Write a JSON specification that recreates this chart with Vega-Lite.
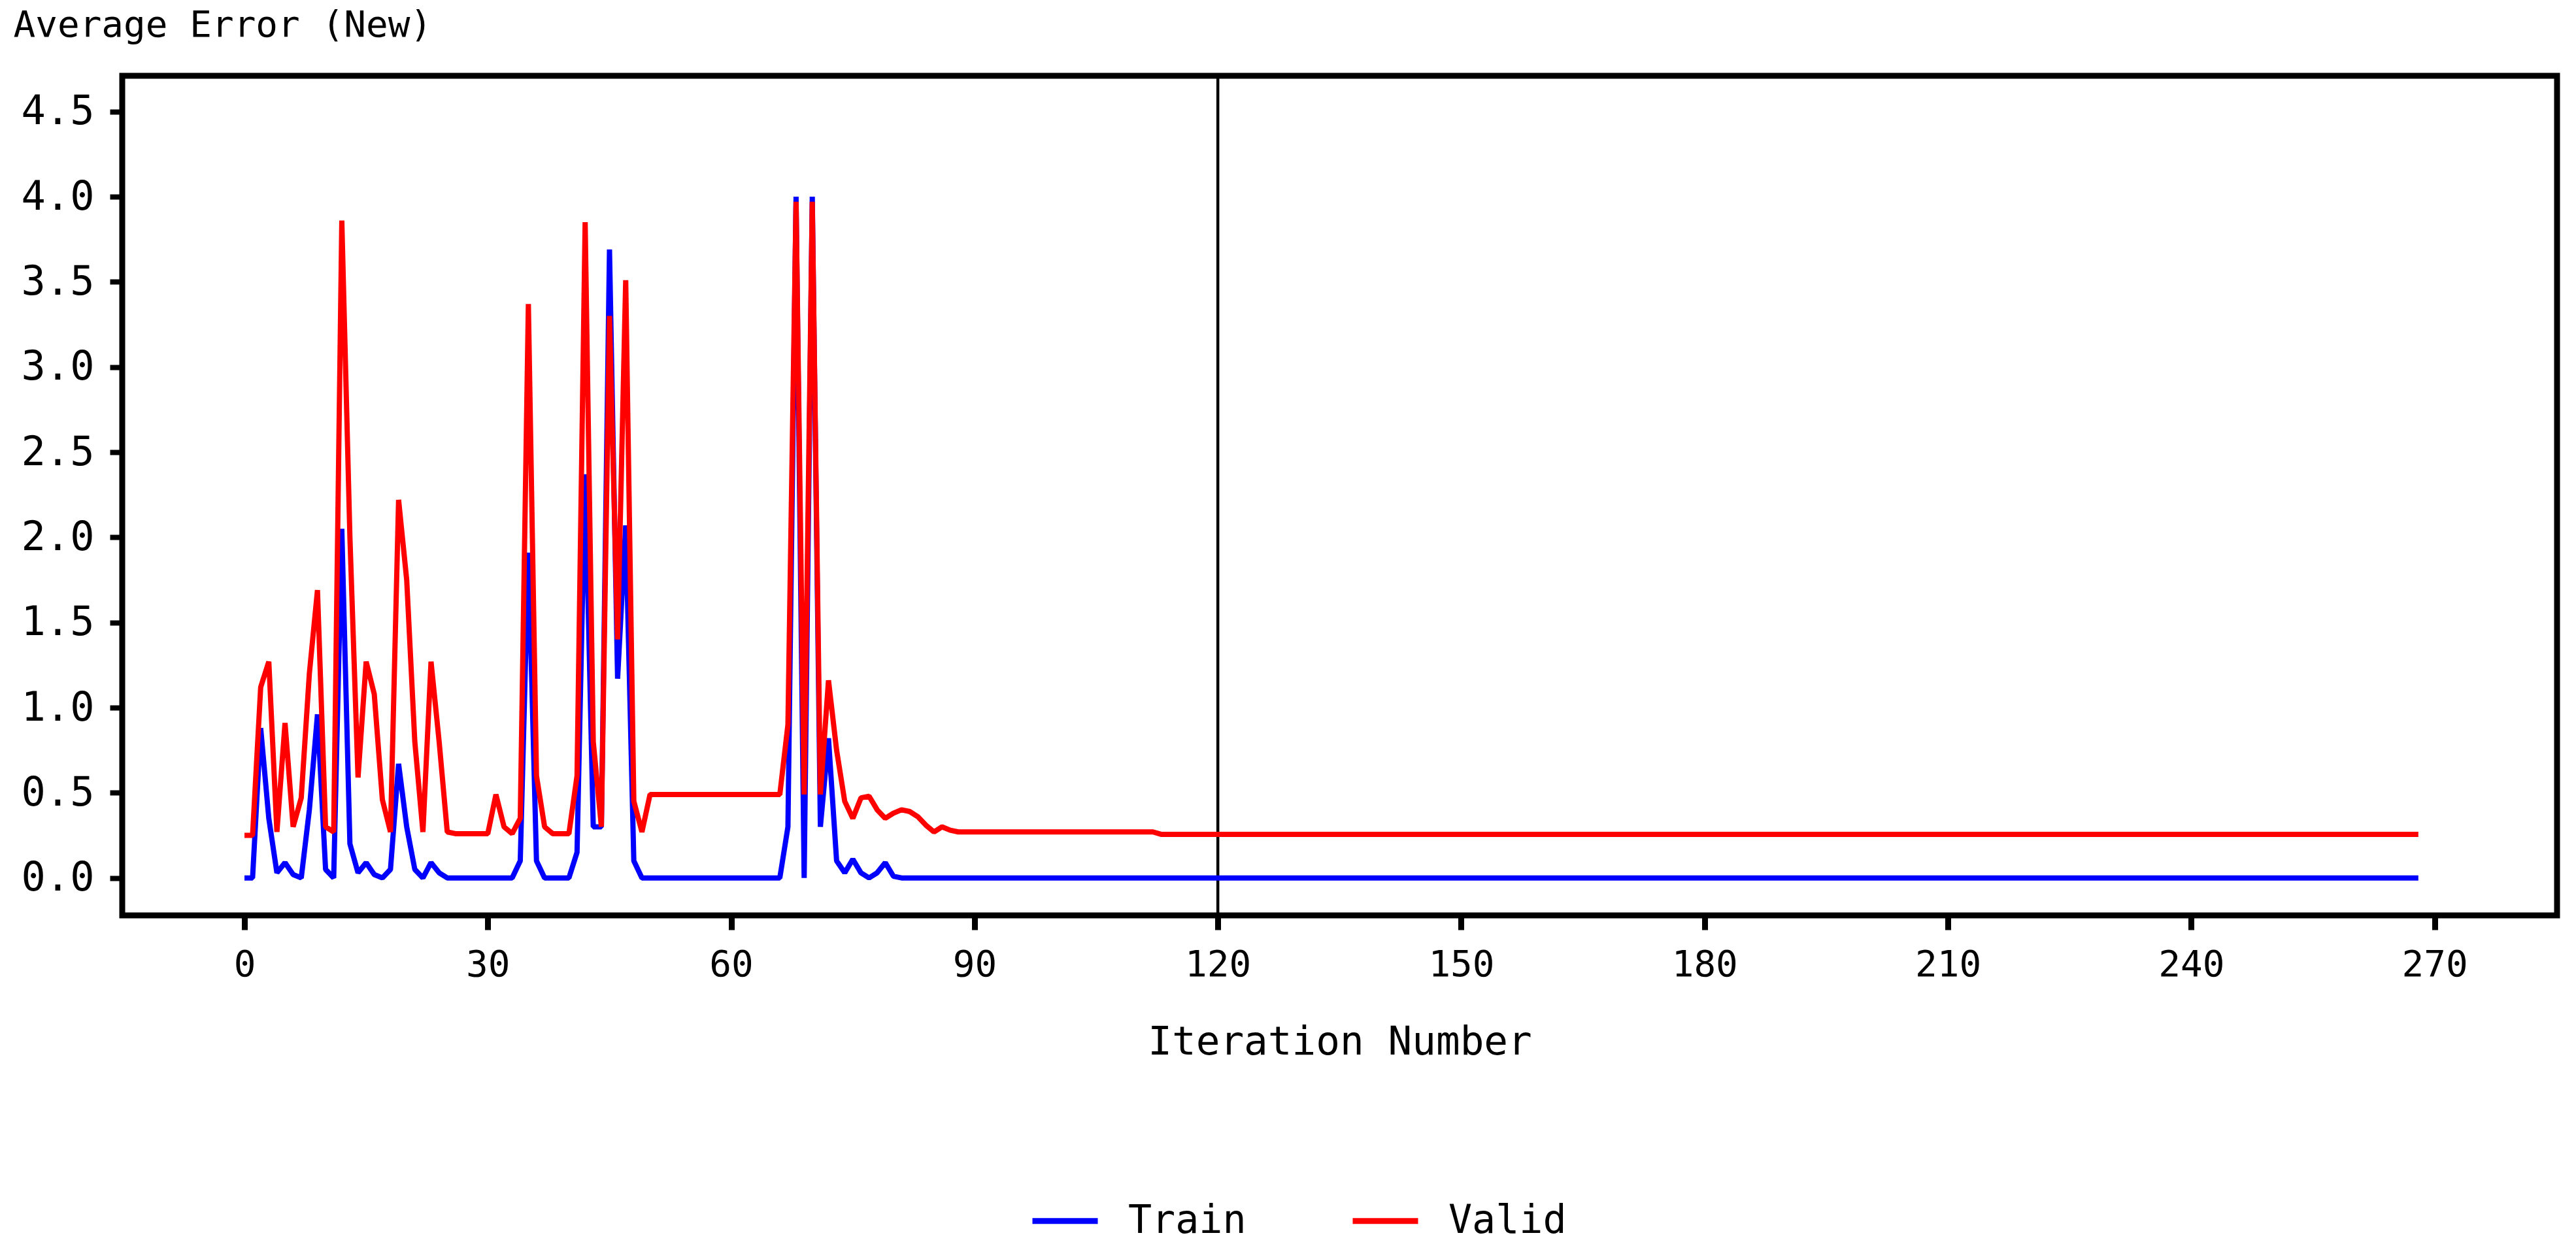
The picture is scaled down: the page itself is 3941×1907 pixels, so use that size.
{
  "$schema": "https://vega.github.io/schema/vega-lite/v6.json",
  "width": 3725,
  "height": 1285,
  "autosize": {"type": "none"},
  "padding": {"left": 187, "top": 116, "right": 29, "bottom": 506},
  "background": "white",
  "config": {
    "view": {"stroke": "black", "strokeWidth": 9},
    "font": "DejaVu Sans Mono"
  },
  "datasets": {
    "errors": [
      {"Iteration":0,"Train":0,"Valid":0.25},
      {"Iteration":1,"Train":0,"Valid":0.25},
      {"Iteration":2,"Train":0.88,"Valid":1.12},
      {"Iteration":3,"Train":0.35,"Valid":1.27},
      {"Iteration":4,"Train":0.03,"Valid":0.27},
      {"Iteration":5,"Train":0.09,"Valid":0.91},
      {"Iteration":6,"Train":0.02,"Valid":0.3},
      {"Iteration":7,"Train":0,"Valid":0.47},
      {"Iteration":8,"Train":0.4,"Valid":1.2},
      {"Iteration":9,"Train":0.96,"Valid":1.69},
      {"Iteration":10,"Train":0.05,"Valid":0.3},
      {"Iteration":11,"Train":0,"Valid":0.27},
      {"Iteration":12,"Train":2.05,"Valid":3.86},
      {"Iteration":13,"Train":0.2,"Valid":2.0},
      {"Iteration":14,"Train":0.03,"Valid":0.59},
      {"Iteration":15,"Train":0.09,"Valid":1.27},
      {"Iteration":16,"Train":0.02,"Valid":1.08},
      {"Iteration":17,"Train":0,"Valid":0.46},
      {"Iteration":18,"Train":0.05,"Valid":0.27},
      {"Iteration":19,"Train":0.67,"Valid":2.22},
      {"Iteration":20,"Train":0.3,"Valid":1.75},
      {"Iteration":21,"Train":0.05,"Valid":0.8},
      {"Iteration":22,"Train":0,"Valid":0.27},
      {"Iteration":23,"Train":0.09,"Valid":1.27},
      {"Iteration":24,"Train":0.03,"Valid":0.8},
      {"Iteration":25,"Train":0,"Valid":0.27},
      {"Iteration":26,"Train":0,"Valid":0.26},
      {"Iteration":27,"Train":0,"Valid":0.26},
      {"Iteration":28,"Train":0,"Valid":0.26},
      {"Iteration":29,"Train":0,"Valid":0.26},
      {"Iteration":30,"Train":0,"Valid":0.26},
      {"Iteration":31,"Train":0,"Valid":0.49},
      {"Iteration":32,"Train":0,"Valid":0.3},
      {"Iteration":33,"Train":0,"Valid":0.26},
      {"Iteration":34,"Train":0.1,"Valid":0.35},
      {"Iteration":35,"Train":1.91,"Valid":3.37},
      {"Iteration":36,"Train":0.1,"Valid":0.6},
      {"Iteration":37,"Train":0,"Valid":0.3},
      {"Iteration":38,"Train":0,"Valid":0.26},
      {"Iteration":39,"Train":0,"Valid":0.26},
      {"Iteration":40,"Train":0,"Valid":0.26},
      {"Iteration":41,"Train":0.15,"Valid":0.6},
      {"Iteration":42,"Train":2.37,"Valid":3.85},
      {"Iteration":43,"Train":0.3,"Valid":0.8},
      {"Iteration":44,"Train":0.3,"Valid":0.3},
      {"Iteration":45,"Train":3.69,"Valid":3.3},
      {"Iteration":46,"Train":1.17,"Valid":1.4},
      {"Iteration":47,"Train":2.07,"Valid":3.51},
      {"Iteration":48,"Train":0.1,"Valid":0.45},
      {"Iteration":49,"Train":0,"Valid":0.27},
      {"Iteration":50,"Train":0,"Valid":0.49},
      {"Iteration":51,"Train":0,"Valid":0.49},
      {"Iteration":52,"Train":0,"Valid":0.49},
      {"Iteration":53,"Train":0,"Valid":0.49},
      {"Iteration":54,"Train":0,"Valid":0.49},
      {"Iteration":55,"Train":0,"Valid":0.49},
      {"Iteration":56,"Train":0,"Valid":0.49},
      {"Iteration":57,"Train":0,"Valid":0.49},
      {"Iteration":58,"Train":0,"Valid":0.49},
      {"Iteration":59,"Train":0,"Valid":0.49},
      {"Iteration":60,"Train":0,"Valid":0.49},
      {"Iteration":61,"Train":0,"Valid":0.49},
      {"Iteration":62,"Train":0,"Valid":0.49},
      {"Iteration":63,"Train":0,"Valid":0.49},
      {"Iteration":64,"Train":0,"Valid":0.49},
      {"Iteration":65,"Train":0,"Valid":0.49},
      {"Iteration":66,"Train":0,"Valid":0.49},
      {"Iteration":67,"Train":0.3,"Valid":0.9},
      {"Iteration":68,"Train":4.0,"Valid":3.97},
      {"Iteration":69,"Train":0,"Valid":0.49},
      {"Iteration":70,"Train":4.0,"Valid":3.97},
      {"Iteration":71,"Train":0.3,"Valid":0.49},
      {"Iteration":72,"Train":0.82,"Valid":1.16},
      {"Iteration":73,"Train":0.1,"Valid":0.75},
      {"Iteration":74,"Train":0.03,"Valid":0.45},
      {"Iteration":75,"Train":0.11,"Valid":0.35},
      {"Iteration":76,"Train":0.03,"Valid":0.47},
      {"Iteration":77,"Train":0,"Valid":0.48},
      {"Iteration":78,"Train":0.03,"Valid":0.4},
      {"Iteration":79,"Train":0.09,"Valid":0.35},
      {"Iteration":80,"Train":0.01,"Valid":0.38},
      {"Iteration":81,"Train":0,"Valid":0.4},
      {"Iteration":82,"Train":0,"Valid":0.39},
      {"Iteration":83,"Train":0,"Valid":0.36},
      {"Iteration":84,"Train":0,"Valid":0.31},
      {"Iteration":85,"Train":0,"Valid":0.27},
      {"Iteration":86,"Train":0,"Valid":0.3},
      {"Iteration":87,"Train":0,"Valid":0.28},
      {"Iteration":88,"Train":0,"Valid":0.27},
      {"Iteration":89,"Train":0,"Valid":0.27},
      {"Iteration":90,"Train":0,"Valid":0.27},
      {"Iteration":91,"Train":0,"Valid":0.27},
      {"Iteration":92,"Train":0,"Valid":0.27},
      {"Iteration":93,"Train":0,"Valid":0.27},
      {"Iteration":94,"Train":0,"Valid":0.27},
      {"Iteration":95,"Train":0,"Valid":0.27},
      {"Iteration":96,"Train":0,"Valid":0.27},
      {"Iteration":97,"Train":0,"Valid":0.27},
      {"Iteration":98,"Train":0,"Valid":0.27},
      {"Iteration":99,"Train":0,"Valid":0.27},
      {"Iteration":100,"Train":0,"Valid":0.27},
      {"Iteration":101,"Train":0,"Valid":0.27},
      {"Iteration":102,"Train":0,"Valid":0.27},
      {"Iteration":103,"Train":0,"Valid":0.27},
      {"Iteration":104,"Train":0,"Valid":0.27},
      {"Iteration":105,"Train":0,"Valid":0.27},
      {"Iteration":106,"Train":0,"Valid":0.27},
      {"Iteration":107,"Train":0,"Valid":0.27},
      {"Iteration":108,"Train":0,"Valid":0.27},
      {"Iteration":109,"Train":0,"Valid":0.27},
      {"Iteration":110,"Train":0,"Valid":0.27},
      {"Iteration":111,"Train":0,"Valid":0.27},
      {"Iteration":112,"Train":0,"Valid":0.27},
      {"Iteration":113,"Train":0,"Valid":0.256},
      {"Iteration":114,"Train":0,"Valid":0.256},
      {"Iteration":115,"Train":0,"Valid":0.256},
      {"Iteration":116,"Train":0,"Valid":0.256},
      {"Iteration":117,"Train":0,"Valid":0.256},
      {"Iteration":118,"Train":0,"Valid":0.256},
      {"Iteration":119,"Train":0,"Valid":0.256},
      {"Iteration":120,"Train":0,"Valid":0.256},
      {"Iteration":121,"Train":0,"Valid":0.256},
      {"Iteration":122,"Train":0,"Valid":0.256},
      {"Iteration":123,"Train":0,"Valid":0.256},
      {"Iteration":124,"Train":0,"Valid":0.256},
      {"Iteration":125,"Train":0,"Valid":0.256},
      {"Iteration":126,"Train":0,"Valid":0.256},
      {"Iteration":127,"Train":0,"Valid":0.256},
      {"Iteration":128,"Train":0,"Valid":0.256},
      {"Iteration":129,"Train":0,"Valid":0.256},
      {"Iteration":130,"Train":0,"Valid":0.256},
      {"Iteration":131,"Train":0,"Valid":0.256},
      {"Iteration":132,"Train":0,"Valid":0.256},
      {"Iteration":133,"Train":0,"Valid":0.256},
      {"Iteration":134,"Train":0,"Valid":0.256},
      {"Iteration":135,"Train":0,"Valid":0.256},
      {"Iteration":136,"Train":0,"Valid":0.256},
      {"Iteration":137,"Train":0,"Valid":0.256},
      {"Iteration":138,"Train":0,"Valid":0.256},
      {"Iteration":139,"Train":0,"Valid":0.256},
      {"Iteration":140,"Train":0,"Valid":0.256},
      {"Iteration":141,"Train":0,"Valid":0.256},
      {"Iteration":142,"Train":0,"Valid":0.256},
      {"Iteration":143,"Train":0,"Valid":0.256},
      {"Iteration":144,"Train":0,"Valid":0.256},
      {"Iteration":145,"Train":0,"Valid":0.256},
      {"Iteration":146,"Train":0,"Valid":0.256},
      {"Iteration":147,"Train":0,"Valid":0.256},
      {"Iteration":148,"Train":0,"Valid":0.256},
      {"Iteration":149,"Train":0,"Valid":0.256},
      {"Iteration":150,"Train":0,"Valid":0.256},
      {"Iteration":151,"Train":0,"Valid":0.256},
      {"Iteration":152,"Train":0,"Valid":0.256},
      {"Iteration":153,"Train":0,"Valid":0.256},
      {"Iteration":154,"Train":0,"Valid":0.256},
      {"Iteration":155,"Train":0,"Valid":0.256},
      {"Iteration":156,"Train":0,"Valid":0.256},
      {"Iteration":157,"Train":0,"Valid":0.256},
      {"Iteration":158,"Train":0,"Valid":0.256},
      {"Iteration":159,"Train":0,"Valid":0.256},
      {"Iteration":160,"Train":0,"Valid":0.256},
      {"Iteration":161,"Train":0,"Valid":0.256},
      {"Iteration":162,"Train":0,"Valid":0.256},
      {"Iteration":163,"Train":0,"Valid":0.256},
      {"Iteration":164,"Train":0,"Valid":0.256},
      {"Iteration":165,"Train":0,"Valid":0.256},
      {"Iteration":166,"Train":0,"Valid":0.256},
      {"Iteration":167,"Train":0,"Valid":0.256},
      {"Iteration":168,"Train":0,"Valid":0.256},
      {"Iteration":169,"Train":0,"Valid":0.256},
      {"Iteration":170,"Train":0,"Valid":0.256},
      {"Iteration":171,"Train":0,"Valid":0.256},
      {"Iteration":172,"Train":0,"Valid":0.256},
      {"Iteration":173,"Train":0,"Valid":0.256},
      {"Iteration":174,"Train":0,"Valid":0.256},
      {"Iteration":175,"Train":0,"Valid":0.256},
      {"Iteration":176,"Train":0,"Valid":0.256},
      {"Iteration":177,"Train":0,"Valid":0.256},
      {"Iteration":178,"Train":0,"Valid":0.256},
      {"Iteration":179,"Train":0,"Valid":0.256},
      {"Iteration":180,"Train":0,"Valid":0.256},
      {"Iteration":181,"Train":0,"Valid":0.256},
      {"Iteration":182,"Train":0,"Valid":0.256},
      {"Iteration":183,"Train":0,"Valid":0.256},
      {"Iteration":184,"Train":0,"Valid":0.256},
      {"Iteration":185,"Train":0,"Valid":0.256},
      {"Iteration":186,"Train":0,"Valid":0.256},
      {"Iteration":187,"Train":0,"Valid":0.256},
      {"Iteration":188,"Train":0,"Valid":0.256},
      {"Iteration":189,"Train":0,"Valid":0.256},
      {"Iteration":190,"Train":0,"Valid":0.256},
      {"Iteration":191,"Train":0,"Valid":0.256},
      {"Iteration":192,"Train":0,"Valid":0.256},
      {"Iteration":193,"Train":0,"Valid":0.256},
      {"Iteration":194,"Train":0,"Valid":0.256},
      {"Iteration":195,"Train":0,"Valid":0.256},
      {"Iteration":196,"Train":0,"Valid":0.256},
      {"Iteration":197,"Train":0,"Valid":0.256},
      {"Iteration":198,"Train":0,"Valid":0.256},
      {"Iteration":199,"Train":0,"Valid":0.256},
      {"Iteration":200,"Train":0,"Valid":0.256},
      {"Iteration":201,"Train":0,"Valid":0.256},
      {"Iteration":202,"Train":0,"Valid":0.256},
      {"Iteration":203,"Train":0,"Valid":0.256},
      {"Iteration":204,"Train":0,"Valid":0.256},
      {"Iteration":205,"Train":0,"Valid":0.256},
      {"Iteration":206,"Train":0,"Valid":0.256},
      {"Iteration":207,"Train":0,"Valid":0.256},
      {"Iteration":208,"Train":0,"Valid":0.256},
      {"Iteration":209,"Train":0,"Valid":0.256},
      {"Iteration":210,"Train":0,"Valid":0.256},
      {"Iteration":211,"Train":0,"Valid":0.256},
      {"Iteration":212,"Train":0,"Valid":0.256},
      {"Iteration":213,"Train":0,"Valid":0.256},
      {"Iteration":214,"Train":0,"Valid":0.256},
      {"Iteration":215,"Train":0,"Valid":0.256},
      {"Iteration":216,"Train":0,"Valid":0.256},
      {"Iteration":217,"Train":0,"Valid":0.256},
      {"Iteration":218,"Train":0,"Valid":0.256},
      {"Iteration":219,"Train":0,"Valid":0.256},
      {"Iteration":220,"Train":0,"Valid":0.256},
      {"Iteration":221,"Train":0,"Valid":0.256},
      {"Iteration":222,"Train":0,"Valid":0.256},
      {"Iteration":223,"Train":0,"Valid":0.256},
      {"Iteration":224,"Train":0,"Valid":0.256},
      {"Iteration":225,"Train":0,"Valid":0.256},
      {"Iteration":226,"Train":0,"Valid":0.256},
      {"Iteration":227,"Train":0,"Valid":0.256},
      {"Iteration":228,"Train":0,"Valid":0.256},
      {"Iteration":229,"Train":0,"Valid":0.256},
      {"Iteration":230,"Train":0,"Valid":0.256},
      {"Iteration":231,"Train":0,"Valid":0.256},
      {"Iteration":232,"Train":0,"Valid":0.256},
      {"Iteration":233,"Train":0,"Valid":0.256},
      {"Iteration":234,"Train":0,"Valid":0.256},
      {"Iteration":235,"Train":0,"Valid":0.256},
      {"Iteration":236,"Train":0,"Valid":0.256},
      {"Iteration":237,"Train":0,"Valid":0.256},
      {"Iteration":238,"Train":0,"Valid":0.256},
      {"Iteration":239,"Train":0,"Valid":0.256},
      {"Iteration":240,"Train":0,"Valid":0.256},
      {"Iteration":241,"Train":0,"Valid":0.256},
      {"Iteration":242,"Train":0,"Valid":0.256},
      {"Iteration":243,"Train":0,"Valid":0.256},
      {"Iteration":244,"Train":0,"Valid":0.256},
      {"Iteration":245,"Train":0,"Valid":0.256},
      {"Iteration":246,"Train":0,"Valid":0.256},
      {"Iteration":247,"Train":0,"Valid":0.256},
      {"Iteration":248,"Train":0,"Valid":0.256},
      {"Iteration":249,"Train":0,"Valid":0.256},
      {"Iteration":250,"Train":0,"Valid":0.256},
      {"Iteration":251,"Train":0,"Valid":0.256},
      {"Iteration":252,"Train":0,"Valid":0.256},
      {"Iteration":253,"Train":0,"Valid":0.256},
      {"Iteration":254,"Train":0,"Valid":0.256},
      {"Iteration":255,"Train":0,"Valid":0.256},
      {"Iteration":256,"Train":0,"Valid":0.256},
      {"Iteration":257,"Train":0,"Valid":0.256},
      {"Iteration":258,"Train":0,"Valid":0.256},
      {"Iteration":259,"Train":0,"Valid":0.256},
      {"Iteration":260,"Train":0,"Valid":0.256},
      {"Iteration":261,"Train":0,"Valid":0.256},
      {"Iteration":262,"Train":0,"Valid":0.256},
      {"Iteration":263,"Train":0,"Valid":0.256},
      {"Iteration":264,"Train":0,"Valid":0.256},
      {"Iteration":265,"Train":0,"Valid":0.256},
      {"Iteration":266,"Train":0,"Valid":0.256},
      {"Iteration":267,"Train":0,"Valid":0.256},
      {"Iteration":268,"Train":0,"Valid":0.256}
    ],
    "reference": [{"Iteration": 120}]
  },
  "layer": [
    {
      "data": {"name": "reference"},
      "mark": {"type": "rule", "color": "black", "strokeWidth": 4.5},
      "encoding": {"x": {"field": "Iteration", "type": "quantitative"}}
    },
    {
      "data": {"name": "errors"},
      "mark": {"type": "line", "strokeWidth": 8, "strokeJoin": "bevel", "strokeCap": "butt"},
      "encoding": {
        "x": {
          "field": "Iteration", "type": "quantitative",
          "scale": {"domain": [-15.07, 285.1], "nice": false, "zero": false},
          "axis": {
            "title": "Iteration Number",
            "values": [0, 30, 60, 90, 120, 150, 180, 210, 240, 270],
            "domain": false, "grid": false,
            "tickSize": 22, "tickWidth": 9, "tickColor": "black",
            "labelFontSize": 56, "labelColor": "black", "labelBaseline": "alphabetic",
            "labelPadding": 70, "labelFlush": false,
            "titleFontSize": 61, "titleFontWeight": "normal", "titleColor": "black",
            "titleBaseline": "alphabetic", "titleY": 212
          }
        },
        "y": {
          "field": "Train", "type": "quantitative",
          "scale": {"domain": [-0.22, 4.71], "nice": false, "zero": false},
          "axis": {
            "title": "Average Error (New)",
            "values": [0, 0.5, 1, 1.5, 2, 2.5, 3, 3.5, 4, 4.5],
            "format": ".1f",
            "domain": false, "grid": false,
            "tickSize": 19, "tickWidth": 8, "tickColor": "black",
            "labelFontSize": 62, "labelColor": "black", "labelPadding": 24,
            "labelFlush": false,
            "titleFontSize": 56, "titleFontWeight": "normal", "titleColor": "black",
            "titleAngle": 0, "titleAlign": "left", "titleBaseline": "alphabetic",
            "titleX": -167, "titleY": -61
          }
        },
        "color": {
          "datum": "Train", "type": "nominal",
          "scale": {"domain": ["Train", "Valid"], "range": ["#0000ff", "#ff0000"]},
          "legend": {
            "orient": "none", "legendX": 1388, "legendY": 1698,
            "direction": "horizontal", "title": null, "padding": 0,
            "symbolType": "stroke", "symbolSize": 10000, "symbolStrokeWidth": 9,
            "labelFontSize": 60, "labelColor": "black", "labelOffset": 42,
            "labelLimit": 600, "columnPadding": 144
          }
        }
      }
    },
    {
      "data": {"name": "errors"},
      "mark": {"type": "line", "strokeWidth": 8, "strokeJoin": "bevel", "strokeCap": "butt"},
      "encoding": {
        "x": {"field": "Iteration", "type": "quantitative"},
        "y": {"field": "Valid", "type": "quantitative"},
        "color": {"datum": "Valid", "type": "nominal"}
      }
    }
  ]
}
